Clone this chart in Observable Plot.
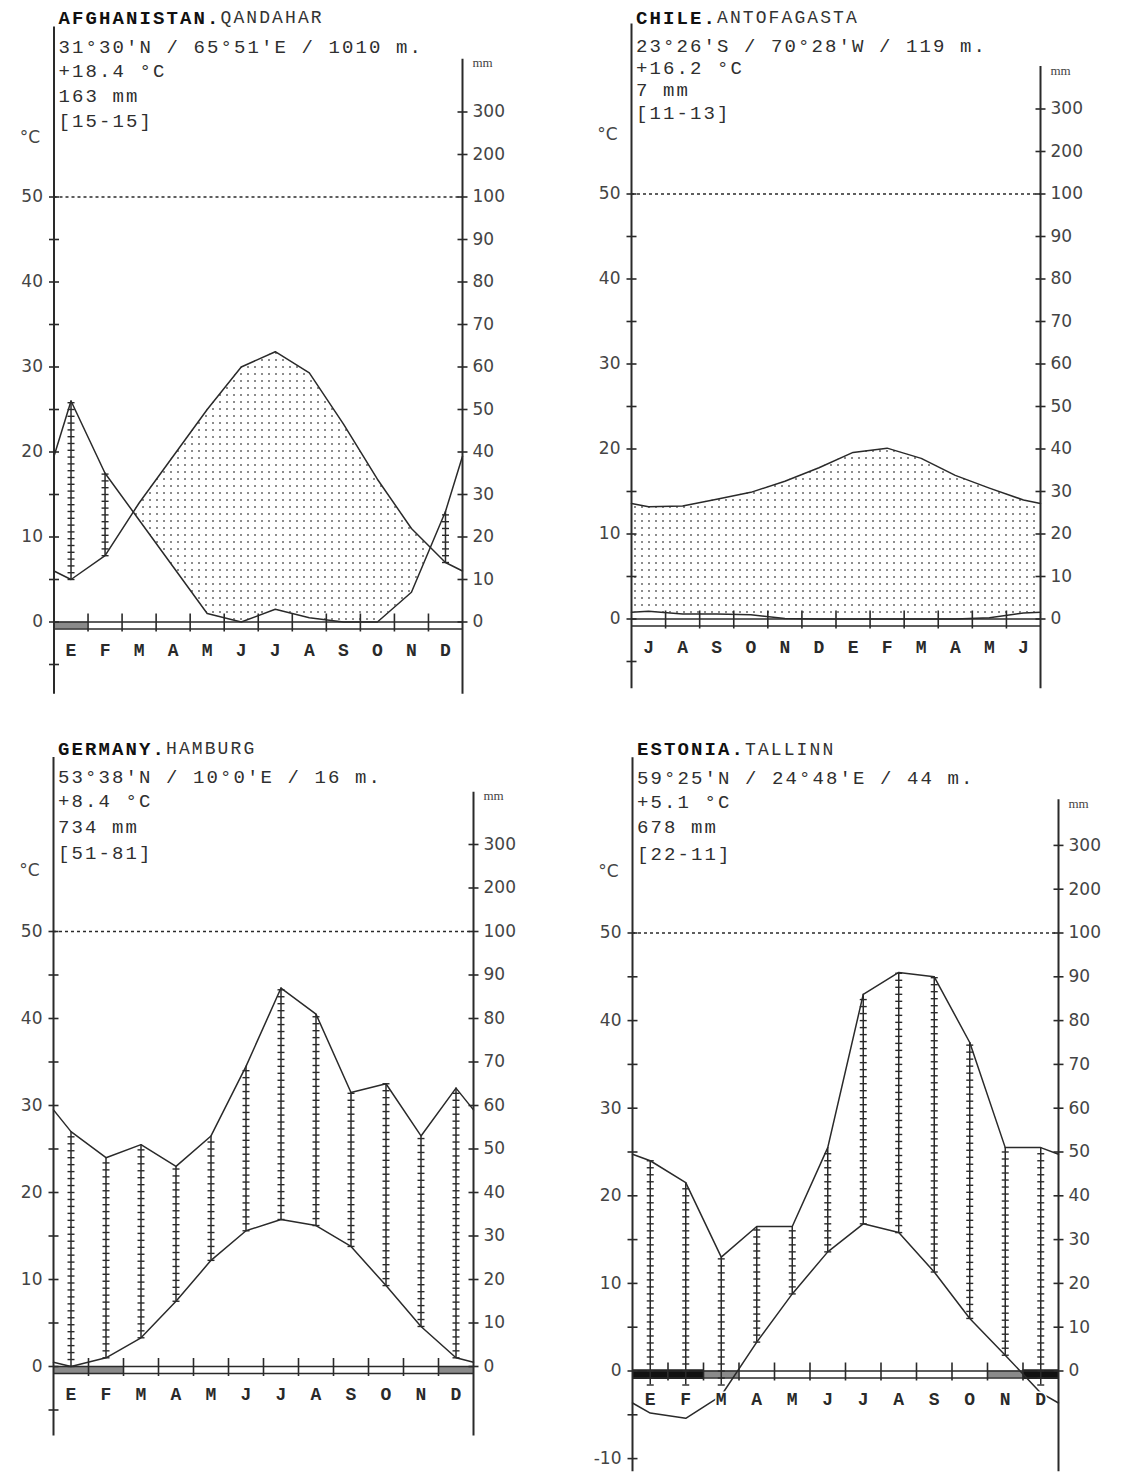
<!DOCTYPE html>
<html><head><meta charset="utf-8">
<script src="https://cdn.jsdelivr.net/npm/d3@7"></script>
<script src="https://cdn.jsdelivr.net/npm/@observablehq/plot@0.6"></script>
<style>
html,body{margin:0;padding:0;background:#fff;}
#wrap{position:relative;width:1124px;height:1475px;overflow:hidden;background:#fff;}
#wrap svg{position:absolute;}
g[font-family*="Cousine"] text{letter-spacing:2.1px;}
</style></head><body><div id="wrap"></div>
<script>
// ---------- DATA ----------
const afgMonths = ["E","F","M","A","M","J","J","A","S","O","N","D"];
const afgTemp = [5.0, 7.8, 14.0, 19.5, 25.0, 30.0, 31.8, 29.3, 23.3, 16.8, 11.0, 7.0];
const afgPrec = [52, 35, 24, 13, 2, 0, 3, 1, 0, 0, 7, 26];
const afgFrost = [1,0,0,0,0,0,0,0,0,0,0,0];
const afgHeader = ["AFGHANISTAN.", "QANDAHAR", "31°30'N / 65°51'E / 1010 m.", "+18.4 °C", "163 mm", "[15-15]"];

const chlMonths = ["J","A","S","O","N","D","E","F","M","A","M","J"];
const chlTemp = [13.2, 13.3, 14.1, 14.9, 16.2, 17.8, 19.6, 20.1, 18.9, 16.9, 15.4, 14.0];
const chlPrec = [1.8, 1.2, 1.2, 1.0, 0.1, 0, 0, 0, 0, 0, 0.3, 1.4];
const chlFrost = [0,0,0,0,0,0,0,0,0,0,0,0];
const chlHeader = ["CHILE.", "ANTOFAGASTA", "23°26'S / 70°28'W / 119 m.", "+16.2 °C", "7 mm", "[11-13]"];

const deuMonths = ["E","F","M","A","M","J","J","A","S","O","N","D"];
const deuTemp = [0.0, 1.0, 3.3, 7.5, 12.2, 15.6, 16.9, 16.2, 13.8, 9.3, 4.6, 1.0];
const deuPrec = [54, 48, 51, 46, 53, 69, 87, 81, 63, 65, 53, 64];
const deuFrost = [1,1,0,0,0,0,0,0,0,0,0,1];
const deuHeader = ["GERMANY.", "HAMBURG", "53°38'N / 10°0'E / 16 m.", "+8.4 °C", "734 mm", "[51-81]"];

const estMonths = ["E","F","M","A","M","J","J","A","S","O","N","D"];
const estTemp = [-4.8, -5.4, -2.8, 3.3, 8.8, 13.6, 16.8, 15.8, 11.3, 6.0, 1.8, -2.5];
const estPrec = [48, 43, 26, 33, 33, 51, 86, 91, 90, 75, 51, 51];
const estFrost = [2,2,1,0,0,0,0,0,0,0,1,2];
const estHeader = ["ESTONIA.", "TALLINN", "59°25'N / 24°48'E / 44 m.", "+5.1 °C", "678 mm", "[22-11]"];

const tempTicks = [-5,0,5,10,15,20,25,30,35,40,45,50];
const tempTicksEst = [-10,-5,0,5,10,15,20,25,30,35,40,45,50];
const tempLabels = [0,10,20,30,40,50];
const tempLabelsEst = [-10,0,10,20,30,40,50];
const precLabels = [0,10,20,30,40,50,60,70,80,90,100,200,300];

// ---------- HELPERS ----------
const MONO = "Liberation Mono, monospace";
const HDR = "Liberation Mono, Cousine, monospace";
const SANS = "DejaVu Sans, Verdana, sans-serif";
const INK = "#2a2a2a";
const toT = p => p <= 100 ? p / 2 : 50 + (p - 100) / 20;
const hline = {draw(ctx, size) { const w = Math.sqrt(size / Math.PI); ctx.moveTo(-w, 0); ctx.lineTo(w, 0); }};

function drawPanel(id, d, g) {
  const {months, temp, prec, frost, header, ticks, labels} = d;
  const k = g.k;
  const edgeT = (temp[0] + temp[11]) / 2;
  const edgeP = (toT(prec[0]) + toT(prec[11])) / 2;
  const series = [{x: 0, t: edgeT, p: edgeP}]
    .concat(temp.map((t, i) => ({x: i + 0.5, t, p: toT(prec[i])})))
    .concat([{x: 12, t: edgeT, p: edgeP}]);
  // arid (dotted) area with crossing points
  const arid = [];
  series.forEach((a, i) => {
    if (i > 0) {
      const b = series[i - 1];
      const da = a.t - a.p, db = b.t - b.p;
      if (da * db < 0) {
        const f = db / (db - da);
        const v = b.p + f * (a.p - b.p);
        arid.push({x: b.x + f * (a.x - b.x), lo: v, hi: v});
      }
    }
    arid.push({x: a.x, lo: a.p, hi: Math.max(a.t, a.p)});
  });
  const floorT = -1.6;
  const wet = series.slice(1, 13).filter(s => s.p > s.t).map(s => ({x: s.x, top: s.p, bot: Math.max(s.t, floorT)}));
  const hatch = [];
  wet.forEach(w => { for (let v = w.bot; v <= w.top + 1e-6; v += 0.8) hatch.push({x: w.x, y: v}); });
  const cells = frost.map((f, i) => ({x1: i, x2: i + 1, f}));
  const stripD = 7 / k;
  const rightTop = g.rightTop;

  const marks = [
    Plot.areaY(arid, {x: "x", y1: "lo", y2: "hi", fill: `url(#dots-${id})`}),
    Plot.rect(cells.filter(c => c.f === 1), {x1: "x1", x2: "x2", y1: 0, y2: -stripD, fill: "#8a8a8a"}),
    Plot.rect(cells.filter(c => c.f === 2), {x1: "x1", x2: "x2", y1: 1.2 / k, y2: -stripD - 1.5 / k, fill: "#111"}),
    Plot.ruleY([0, -stripD], {stroke: INK, strokeWidth: 1.5}),
    Plot.ruleY([50], {stroke: INK, strokeWidth: 1.4, strokeDasharray: "3,3"}),
    Plot.ruleX(wet, {x: "x", y1: "bot", y2: "top", stroke: INK, strokeWidth: 1.5}),
    Plot.dot(hatch, {x: "x", y: "y", symbol: hline, r: 3.5, stroke: INK, strokeWidth: 1.4, fill: "none"}),
    Plot.line(series, {x: "x", y: "t", stroke: INK, strokeWidth: 1.5}),
    Plot.line(series, {x: "x", y: "p", stroke: INK, strokeWidth: 1.5}),
    Plot.ruleX([1,2,3,4,5,6,7,8,9,10,11], {y1: 8 / k, y2: -stripD - 3 / k, stroke: INK, strokeWidth: 1.6}),
    Plot.ruleX([0], {y1: g.yMin, y2: g.yMax, stroke: INK, strokeWidth: 2}),
    Plot.ruleX([12], {y1: g.yMin, y2: rightTop, stroke: INK, strokeWidth: 2}),
    Plot.dot(ticks, {x: () => 0, y: v => v, symbol: hline, r: 5, stroke: INK, strokeWidth: 1.6, fill: "none"}),
    Plot.dot(precLabels, {x: () => 12, y: v => toT(v), symbol: hline, r: 5, stroke: INK, strokeWidth: 1.6, fill: "none"}),
    Plot.text(labels, {x: () => 0, y: v => v, text: v => String(v), dx: -11, textAnchor: "end", fontFamily: SANS, fontSize: 17, fill: "#444"}),
    Plot.text(precLabels, {x: () => 12, y: v => toT(v), text: v => String(v), dx: 10, textAnchor: "start", fontFamily: SANS, fontSize: 17, fill: "#444"}),
    Plot.text(["°C"], {x: () => 0, y: () => 57, text: v => v, dx: -14, textAnchor: "end", fontFamily: SANS, fontSize: 17, fill: "#444"}),
    Plot.text(["mm"], {x: () => 12, y: () => rightTop, text: v => v, dx: 10, dy: 4, textAnchor: "start", fontFamily: "Liberation Serif, serif", fontSize: 13, fill: "#444"}),
    Plot.text(months, {x: (m, i) => i + 0.5, y: () => 0, text: m => m, dy: 28, fontFamily: MONO, fontWeight: "bold", fontSize: 18, fill: INK, stroke: "white", strokeWidth: 3})
  ];
  // header
  marks.push(Plot.text([header[0]], {frameAnchor: "top-left", text: v => v, dx: 4.5, dy: g.titleDy, lineAnchor: "middle", textAnchor: "start", fontFamily: HDR, fontWeight: "bold", fontSize: 19, fill: "#111"}));
  marks.push(Plot.text([header[1]], {frameAnchor: "top-left", text: v => v, dx: 4.5 + header[0].length * 13.5, dy: g.titleDy, lineAnchor: "middle", textAnchor: "start", fontFamily: HDR, fontSize: 18, fill: "#333"}));
  header.slice(2).forEach((line, i) => {
    marks.push(Plot.text([line], {frameAnchor: "top-left", text: v => v, dx: 4.5, dy: g.lineDy[i], lineAnchor: "middle", textAnchor: "start", fontFamily: HDR, fontSize: 19, fill: "#2f2f2f"}));
  });

  const svg = Plot.plot({
    width: g.width, height: g.height,
    marginLeft: g.leftX - g.left,
    marginRight: g.left + g.width - g.rightX,
    marginTop: g.zeroY - g.yMax * k - g.top,
    marginBottom: g.top + g.height - (g.zeroY - g.yMin * k),
    x: {domain: [0, 12], axis: null},
    y: {domain: [g.yMin, g.yMax], axis: null},
    marks
  });
  const defs = d3.select(svg).insert("defs", ":first-child");
  const pat = defs.append("pattern").attr("id", `dots-${id}`).attr("patternUnits", "userSpaceOnUse").attr("width", 7).attr("height", 7);
  pat.append("rect").attr("x", 2).attr("y", 2).attr("width", 2).attr("height", 2).attr("fill", "#8c8c8c");
  svg.style.left = g.left + "px";
  svg.style.top = g.top + "px";
  svg.style.maxWidth = "none";
  document.getElementById("wrap").appendChild(svg);
}

drawPanel("afg",
  {months: afgMonths, temp: afgTemp, prec: afgPrec, frost: afgFrost, header: afgHeader, ticks: tempTicks, labels: tempLabels},
  {left: 0, top: 0, width: 562, height: 720, leftX: 53.5, rightX: 462, zeroY: 621.5, k: 8.5, yMin: -8.5, yMax: 70, rightTop: 66.2, titleDy: -9.5, lineDy: [20, 43.5, 68.5, 93.5]});
drawPanel("chl",
  {months: chlMonths, temp: chlTemp, prec: chlPrec, frost: chlFrost, header: chlHeader, ticks: tempTicks, labels: tempLabels},
  {left: 562, top: 0, width: 562, height: 720, leftX: 631, rightX: 1040, zeroY: 618.5, k: 8.5, yMin: -8.2, yMax: 70, rightTop: 65, titleDy: -6.5, lineDy: [21.5, 43.5, 65.5, 88.5]});
drawPanel("deu",
  {months: deuMonths, temp: deuTemp, prec: deuPrec, frost: deuFrost, header: deuHeader, ticks: tempTicks, labels: tempLabels},
  {left: 0, top: 720, width: 562, height: 755, leftX: 53, rightX: 473, zeroY: 1366, k: 8.7, yMin: -8, yMax: 70, rightTop: 66, titleDy: -9, lineDy: [19, 43, 69, 95]});
drawPanel("est",
  {months: estMonths, temp: estTemp, prec: estPrec, frost: estFrost, header: estHeader, ticks: tempTicksEst, labels: tempLabelsEst},
  {left: 562, top: 720, width: 562, height: 755, leftX: 632, rightX: 1058, zeroY: 1370.5, k: 8.76, yMin: -11.5, yMax: 70, rightTop: 65.2, titleDy: -9, lineDy: [20, 44, 69, 96]});
</script></body></html>
